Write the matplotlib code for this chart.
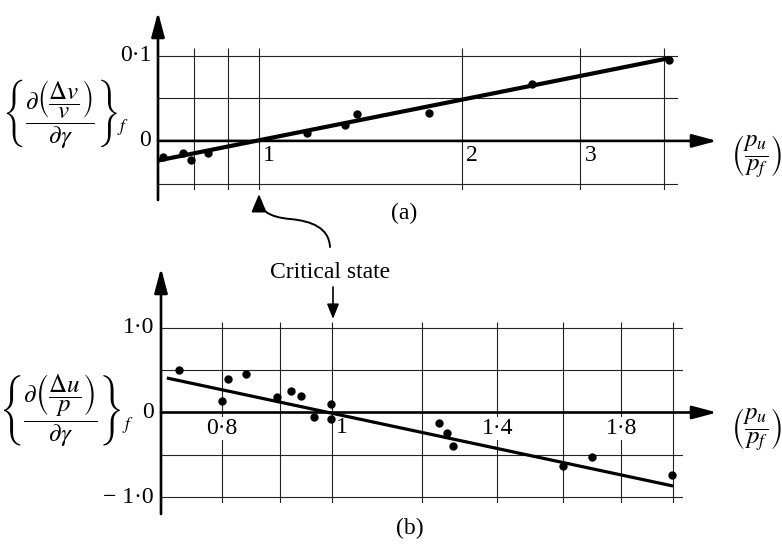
import matplotlib
matplotlib.use('Agg')
import matplotlib.pyplot as plt
from matplotlib.patches import FancyArrowPatch
from matplotlib.path import Path

plt.rcParams['font.family'] = ['Liberation Serif', 'DejaVu Serif']
plt.rcParams['mathtext.fontset'] = 'stix'

# panel (a): volume change
a_x = [0.72, 0.771, 0.793, 0.84, 1.18, 1.34, 1.40, 1.79, 2.54, 4.06]
a_y = [-0.019, -0.014, -0.022, -0.014, 0.009, 0.019, 0.031, 0.033, 0.067, 0.095]
a_fit_x = [0.708, 4.06]
a_fit_y = [-0.023, 0.097]
a_grid_x = [0.8, 0.9, 1, 2, 3, 4]
a_grid_y = [0.1, 0.05, -0.05]
a_xticks = [1, 2, 3]
a_xlabels = ['1', '2', '3']
a_yticks = [0.1, 0]
a_ylabels = ['0·1', '0']

# panel (b): pore pressure
b_x = [0.733, 0.80, 0.81, 0.84, 0.894, 0.92, 0.939, 0.964, 0.998, 0.998,
       1.243, 1.263, 1.279, 1.60, 1.696, 1.995]
b_y = [0.50, 0.136, 0.396, 0.455, 0.183, 0.254, 0.195, -0.053, 0.10, -0.077,
       -0.124, -0.242, -0.396, -0.632, -0.526, -0.739]
b_fit_x = [0.715, 2.0]
b_fit_y = [0.408, -0.869]
b_grid_x = [0.8, 0.9, 1.0, 1.2, 1.4, 1.6, 1.8, 2.0]
b_grid_y = [1.0, 0.5, -0.5, -1.0]
b_xticks = [0.8, 1, 1.4, 1.8]
b_xlabels = ['0·8', '1', '1·4', '1·8']
b_yticks = [1.0, 0, -1.0]
b_ylabels = ['1·0', '0', '− 1·0']

W, H = 782, 550
fig = plt.figure(figsize=(W / 100, H / 100), dpi=100)


def box(left, top, right, bottom):
    return [left / W, 1 - bottom / H, (right - left) / W, (bottom - top) / H]


def fpt(px, py):
    return (px / W, 1 - py / H)


fs = 17
arrow_style = '-|>,head_length=0.75,head_width=0.2'


def panel(pos, xlim, ylim, gx, gy, x, y, fx, fy, fit_lw, xt, xl, yt, yl,
          tip_x, y_from, y_to, center_labels):
    ax = fig.add_axes(pos)
    ax.set_xscale('log')
    ax.set_xlim(*xlim)
    ax.set_ylim(*ylim)
    ax.axis('off')
    ax.vlines(gx, ylim[0], ylim[1], color='#222222', lw=0.8, zorder=1)
    ax.hlines(gy, xlim[0], xlim[1], color='#222222', lw=0.8, zorder=1)
    # axes with arrow heads
    ax.annotate('', xy=(tip_x, 0), xytext=(0, 0),
                xycoords=('axes fraction', 'data'),
                arrowprops=dict(arrowstyle=arrow_style, color='black', lw=1.9,
                                mutation_scale=20, shrinkA=0, shrinkB=0),
                annotation_clip=False)
    ax.annotate('', xy=(xlim[0], y_to), xytext=(xlim[0], y_from),
                xycoords=('data', 'axes fraction'),
                arrowprops=dict(arrowstyle=arrow_style, color='black', lw=1.9,
                                mutation_scale=20, shrinkA=0, shrinkB=0),
                annotation_clip=False)
    ax.plot(fx, fy, color='black', lw=fit_lw, solid_capstyle='butt', zorder=3)
    ax.plot(x, y, 'o', color='black', ms=5, zorder=4, clip_on=False)
    for v, s in zip(xt, xl):
        if s in center_labels:
            ax.annotate(s, (v, 0), xytext=(0, -4), textcoords='offset points',
                        ha='center', va='top', fontsize=fs, zorder=5,
                        bbox=dict(fc='white', ec='none', pad=1))
        else:
            ax.annotate(s, (v, 0), xytext=(3, -3), textcoords='offset points',
                        ha='left', va='top', fontsize=fs, zorder=5)
    for v, s in zip(yt, yl):
        ax.annotate(s, (xlim[0], v), xytext=(-5, 0), textcoords='offset points',
                    ha='right', va='center', fontsize=fs, annotation_clip=False)
    return ax


ax_a = panel(box(158, 48, 678, 190), (0.708, 4.19), (-0.0576, 0.109),
             a_grid_x, a_grid_y, a_x, a_y, a_fit_x, a_fit_y, 3.0,
             a_xticks, a_xlabels, a_yticks, a_ylabels,
             (717 - 158) / 520, (190 - 200) / 142, (190 - 12) / 142, [])

ax_b = panel(box(161, 322, 683, 503), (0.7066, 2.041), (-1.07, 1.07),
             b_grid_x, b_grid_y, b_x, b_y, b_fit_x, b_fit_y, 2.3,
             b_xticks, b_xlabels, b_yticks, b_ylabels,
             (717 - 161) / 522, (503 - 514) / 181, (503 - 268) / 181,
             ['0·8', '1·4', '1·8'])

ylab_a = r'$\left\{\dfrac{\partial\left(\dfrac{\mathit{\Delta} v}{v}\right)}{\partial\gamma}\right\}_f$'
ylab_b = r'$\left\{\dfrac{\partial\left(\dfrac{\mathit{\Delta} u}{p}\right)}{\partial\gamma}\right\}_f$'
xlab = r'$\left(\dfrac{p_u}{p_f}\right)$'

fig.text(*fpt(66, 113), ylab_a, fontsize=18, ha='center', va='center')
fig.text(*fpt(66, 410), ylab_b, fontsize=18, ha='center', va='center')
fig.text(*fpt(757, 157), xlab, fontsize=18, ha='center', va='center')
fig.text(*fpt(757, 429), xlab, fontsize=18, ha='center', va='center')
fig.text(*fpt(404, 213), '(a)', fontsize=fs, ha='center', va='center')
fig.text(*fpt(410, 528), '(b)', fontsize=fs, ha='center', va='center')
fig.text(*fpt(330, 272), 'Critical state', fontsize=fs, ha='center', va='center')

# arrow pointing down to the critical state in (b)
fig.add_artist(FancyArrowPatch(fpt(333, 287), fpt(333, 319), transform=fig.transFigure,
                               arrowstyle='-|>,head_length=0.5,head_width=0.2',
                               mutation_scale=18, lw=1.2, color='black',
                               shrinkA=0, shrinkB=0))

# curved arrow pointing up to the critical state in (a)
verts = [fpt(330, 247), fpt(329, 228), fpt(312, 221), fpt(290, 219),
         fpt(268, 217), fpt(259, 210), fpt(259, 194)]
codes = [Path.MOVETO, Path.CURVE4, Path.CURVE4, Path.CURVE4,
         Path.CURVE4, Path.CURVE4, Path.CURVE4]
fig.add_artist(FancyArrowPatch(path=Path(verts, codes), transform=fig.transFigure,
                               arrowstyle='-|>,head_length=0.6,head_width=0.25',
                               mutation_scale=18, lw=1.4, color='black'))

fig.savefig('out.png', dpi=100)
